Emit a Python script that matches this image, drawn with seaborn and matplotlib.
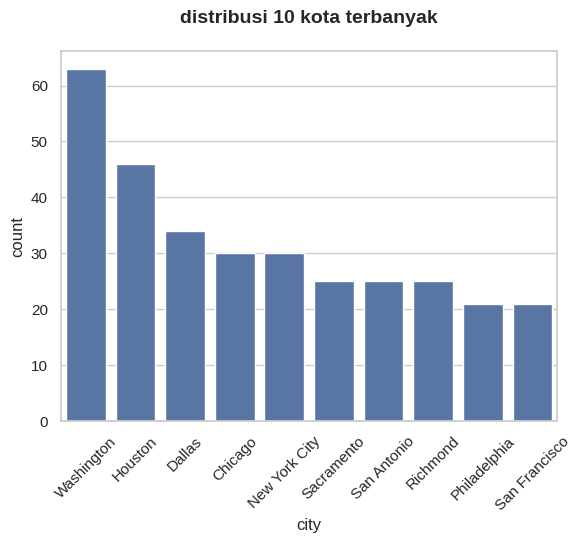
import matplotlib
matplotlib.use("Agg")
import matplotlib.pyplot as plt
import pandas as pd
import seaborn as sns

cities = ["Washington", "Houston", "Dallas", "Chicago", "New York City",
          "Sacramento", "San Antonio", "Richmond", "Philadelphia", "San Francisco"]
counts = [63, 46, 34, 30, 30, 25, 25, 25, 21, 21]

df = pd.DataFrame({"city": cities, "count": counts})

sns.set_theme(style="whitegrid")
plt.rcParams["font.family"] = ["Liberation Sans", "DejaVu Sans"]

fig, ax = plt.subplots(figsize=(5.81, 5.44), dpi=100)
fig.subplots_adjust(left=0.105, right=0.959, bottom=0.226, top=0.906)

sns.barplot(data=df, x="city", y="count", ax=ax, color="#4c72b0")

ax.set_title("distribusi 10 kota terbanyak", fontsize=14, fontweight="bold", pad=20)
ax.tick_params(axis="x", rotation=45)
ax.set_xlabel("city", fontsize=12)
ax.set_ylabel("count", fontsize=12)

fig.savefig("out.png", dpi=100)
